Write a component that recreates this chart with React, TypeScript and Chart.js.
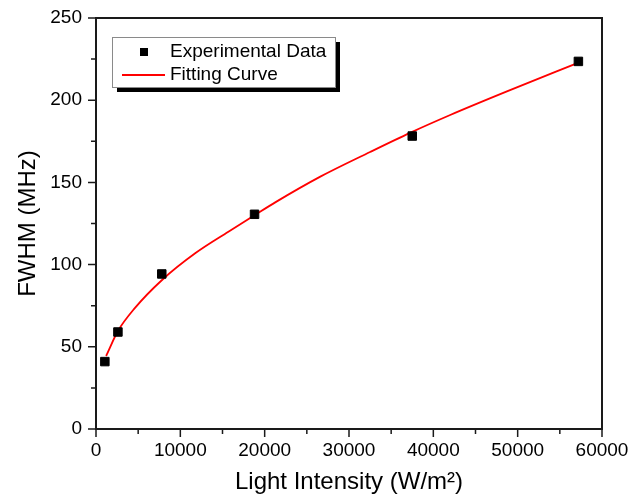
import React, { useEffect, useRef } from 'react';
import { Chart, registerables } from 'chart.js';

Chart.register(...registerables);

// Experimental data (light intensity in W/m², FWHM in MHz)
const expIntensity = [1050, 2600, 7800, 18800, 37500, 57200];
const expFwhm = [41, 59, 94.3, 130.6, 178.2, 223.6];

// Fitting curve
const fitIntensity = [1200, 2600, 4600, 7800, 11800, 15700, 18800, 21300, 26600, 32500, 37300, 42000, 48800, 57300];
const fitFwhm = [44.4, 59.6, 73.5, 90.5, 107, 120, 130, 138, 153.5, 168.5, 180.3, 191, 205.5, 223];

const seriesLabels = ['Experimental Data', 'Fitting Curve'];
const xTitle = 'Light Intensity (W/m²)';
const yTitle = 'FWHM (MHz)';

const FONT = '"Liberation Sans", Arial, Helvetica, sans-serif';

const frameTicksPlugin = {
  id: 'frameTicks',
  afterDraw(chart: any) {
    const { ctx, chartArea: a, scales } = chart;
    const x = scales.x;
    const y = scales.y;
    ctx.save();
    ctx.strokeStyle = '#1a1a1a';
    ctx.lineWidth = 1.5;
    ctx.beginPath();
    const xv = x.ticks.map((t: any) => t.value);
    xv.forEach((v: number, i: number) => {
      const px = x.getPixelForValue(v);
      ctx.moveTo(px, a.bottom);
      ctx.lineTo(px, a.bottom + 8);
      if (i < xv.length - 1) {
        const mp = x.getPixelForValue((v + xv[i + 1]) / 2);
        ctx.moveTo(mp, a.bottom);
        ctx.lineTo(mp, a.bottom + 5);
      }
    });
    const yv = y.ticks.map((t: any) => t.value);
    yv.forEach((v: number, i: number) => {
      const py = y.getPixelForValue(v);
      ctx.moveTo(a.left, py);
      ctx.lineTo(a.left - 8, py);
      if (i < yv.length - 1) {
        const mp = y.getPixelForValue((v + yv[i + 1]) / 2);
        ctx.moveTo(a.left, mp);
        ctx.lineTo(a.left - 5, mp);
      }
    });
    ctx.stroke();
    ctx.lineWidth = 2;
    ctx.strokeStyle = '#1a1a1a';
    ctx.strokeRect(a.left, a.top, a.right - a.left, a.bottom - a.top);
    ctx.restore();
  },
};

const boxLegendPlugin = {
  id: 'boxLegend',
  afterDraw(chart: any) {
    const { ctx, chartArea: a } = chart;
    const ds = chart.data.datasets;
    const left = a.left + 16;
    const top = a.top + 19;
    const w = 223;
    const h = 50;
    ctx.save();
    ctx.fillStyle = '#000';
    ctx.fillRect(left + 5, top + 5, w, h);
    ctx.fillStyle = '#fff';
    ctx.fillRect(left, top, w, h);
    ctx.strokeStyle = '#8a8a8a';
    ctx.lineWidth = 1;
    ctx.strokeRect(left + 0.5, top + 0.5, w, h);

    const row1 = top + 15;
    const row2 = top + 38;
    ctx.fillStyle = ds[0].backgroundColor;
    ctx.fillRect(left + 28, row1 - 4, 8, 8);
    ctx.strokeStyle = ds[1].borderColor;
    ctx.lineWidth = 1.8;
    ctx.beginPath();
    ctx.moveTo(left + 10, row2);
    ctx.lineTo(left + 53, row2);
    ctx.stroke();

    ctx.fillStyle = '#000';
    ctx.font = `19px ${FONT}`;
    ctx.textBaseline = 'middle';
    ctx.textAlign = 'left';
    ctx.fillText(ds[0].label, left + 58, row1);
    ctx.fillText(ds[1].label, left + 58, row2);
    ctx.restore();
  },
};

export default function App() {
  const ref = useRef<HTMLCanvasElement | null>(null);

  useEffect(() => {
    document.body.style.margin = '0';
    const canvas = ref.current;
    if (!canvas) return;
    const chart = new Chart(canvas, {
      type: 'scatter',
      data: {
        datasets: [
          {
            label: seriesLabels[0],
            data: expIntensity.map((v, i) => ({ x: v, y: expFwhm[i] })),
            backgroundColor: '#000',
            borderColor: '#000',
            borderWidth: 1,
            pointStyle: 'rect',
            pointRadius: 6,
            pointHoverRadius: 6,
            showLine: false,
          },
          {
            label: seriesLabels[1],
            data: fitIntensity.map((v, i) => ({ x: v, y: fitFwhm[i] })),
            borderColor: '#ff0000',
            backgroundColor: '#ff0000',
            borderWidth: 1.8,
            pointRadius: 0,
            showLine: true,
            cubicInterpolationMode: 'monotone',
          },
        ],
      },
      options: {
        animation: false,
        responsive: false,
        maintainAspectRatio: false,
        layout: { padding: { top: 18, right: 31, left: 0, bottom: 0 } },
        plugins: {
          legend: { display: false },
          tooltip: { enabled: false },
        },
        scales: {
          x: {
            type: 'linear',
            min: 0,
            max: 60000,
            afterFit: (s: any) => {
              s.height = 68;
              s.paddingLeft = 0;
              s.paddingRight = 0;
            },
            grid: { display: false, drawTicks: false, tickLength: 0 },
            border: { display: false },
            ticks: {
              stepSize: 10000,
              padding: 10,
              color: '#000',
              font: { family: FONT, size: 19 },
              callback: (v: any) => String(v),
              maxRotation: 0,
            },
            title: {
              display: true,
              text: xTitle,
              color: '#000',
              font: { family: FONT, size: 24 },
              padding: { top: 0, bottom: 0 },
            },
          },
          y: {
            type: 'linear',
            min: 0,
            max: 250,
            afterFit: (s: any) => {
              s.width = 96;
              s.paddingTop = 0;
              s.paddingBottom = 0;
            },
            grid: { display: false, drawTicks: false, tickLength: 0 },
            border: { display: false },
            ticks: {
              stepSize: 50,
              padding: 14,
              color: '#000',
              font: { family: FONT, size: 19 },
              callback: (v: any) => String(v),
            },
            title: {
              display: true,
              text: yTitle,
              color: '#000',
              font: { family: FONT, size: 24 },
              padding: { top: 14, bottom: 0 },
            },
          },
        },
      },
      plugins: [frameTicksPlugin, boxLegendPlugin],
    } as any);
    return () => chart.destroy();
  }, []);

  return (
    <div style={{ width: 633, height: 497 }}>
      <canvas ref={ref} width={633} height={497} style={{ display: 'block' }} />
    </div>
  );
}
